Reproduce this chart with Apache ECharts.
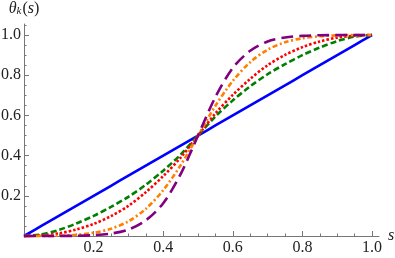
<!DOCTYPE html>
<html><head><meta charset="utf-8">
<script src="https://cdn.jsdelivr.net/npm/echarts@6/dist/echarts.min.js"></script>
<style>html,body{margin:0;padding:0;background:#fff}#c{width:395px;height:258px}</style>
</head><body><div id="c"></div>
<script>
const sValues = [0,0.05,0.1,0.15,0.2,0.25,0.3,0.35,0.4,0.45,0.5,0.55,0.6,0.65,0.7,0.75,0.8,0.85,0.9,0.95,1];
const blueVals   = [0,0.05,0.1,0.15,0.2,0.25,0.3,0.35,0.4,0.45,0.5,0.55,0.6,0.65,0.7,0.75,0.8,0.85,0.9,0.95,1];
const greenVals  = [0,0.008,0.03,0.062,0.1,0.145,0.195,0.255,0.325,0.405,0.5,0.595,0.675,0.745,0.805,0.855,0.9,0.938,0.97,0.992,1];
const redVals    = [0,0.003,0.013,0.032,0.06,0.099,0.15,0.218,0.298,0.39,0.5,0.61,0.702,0.782,0.85,0.901,0.94,0.968,0.987,0.997,1];
const orangeVals = [0,0.0002,0.0015,0.006,0.016,0.036,0.073,0.135,0.228,0.352,0.5,0.648,0.772,0.865,0.927,0.964,0.984,0.994,0.9985,0.9998,1];
const purpleVals = [0,0,0.0002,0.001,0.004,0.012,0.032,0.078,0.163,0.308,0.5,0.692,0.837,0.922,0.968,0.988,0.996,0.999,0.9998,1,1];
const majorTicks = [0.2,0.4,0.6,0.8,1.0];
const minorTicksX = [0.05,0.1,0.15,0.25,0.3,0.35,0.45,0.5,0.55,0.65,0.7,0.75,0.85,0.9,0.95];
const minorTicksY = [0.05,0.1,0.15,0.25,0.3,0.35,0.45,0.5,0.55,0.65,0.7,0.75,0.85,0.9,0.95,1.05];

const font = 'Times New Roman, Liberation Serif, serif';
const axisCol = '#777';
const pairs = v => sValues.map((s,i)=>[s,v[i]]);

const chart = echarts.init(document.getElementById('c'), null, {renderer:'canvas'});
function mkSeries(vals,color,type){
  return {type:'line', data:pairs(vals), showSymbol:false, smooth:0.3, clip:false,
    lineStyle:{color:color,width:2.6,type:type,cap:'butt'}, emphasis:{disabled:true}};
}
chart.setOption({
  animation:false,
  textStyle:{fontFamily:font},
  grid:{left:24,right:16,top:24,bottom:22,containLabel:false,outerBoundsMode:'none'},
  xAxis:[{
    type:'value',min:0,max:1.02,
    name:'s',nameLocation:'end',nameGap:8,
    nameTextStyle:{fontFamily:font,fontStyle:'italic',fontSize:16,color:'#222',verticalAlign:'middle'},
    axisLine:{show:true,onZero:false,lineStyle:{color:axisCol,width:1}},
    axisTick:{show:true,inside:true,length:5,customValues:majorTicks,lineStyle:{color:axisCol}},
    axisLabel:{customValues:majorTicks,formatter:v=>v.toFixed(1),fontFamily:font,fontSize:16,color:'#222',margin:4},
    splitLine:{show:false}
  },{
    type:'value',min:0,max:1.02,position:'bottom',
    axisLine:{show:false},
    axisTick:{show:true,inside:true,length:2.5,customValues:minorTicksX,lineStyle:{color:axisCol}},
    axisLabel:{show:false},splitLine:{show:false}
  }],
  yAxis:[{
    type:'value',min:0,max:1.055,
    name:'{a|θ}{b|k}{c|(}{a|s}{c|)}',nameLocation:'end',nameGap:7,
    nameTextStyle:{align:'center',rich:{
      a:{fontFamily:font,fontStyle:'italic',fontSize:16,color:'#222'},
      b:{fontFamily:font,fontStyle:'italic',fontSize:11,color:'#222',verticalAlign:'bottom',padding:[6,1,0,0]},
      c:{fontFamily:font,fontSize:16,color:'#222'}
    }},
    axisLine:{show:true,onZero:false,lineStyle:{color:axisCol,width:1}},
    axisTick:{show:true,inside:true,length:5,customValues:majorTicks,lineStyle:{color:axisCol}},
    axisLabel:{customValues:majorTicks,formatter:v=>v.toFixed(1),fontFamily:font,fontSize:16,color:'#222',margin:3},
    splitLine:{show:false}
  },{
    type:'value',min:0,max:1.055,position:'left',
    axisLine:{show:false},
    axisTick:{show:true,inside:true,length:2.5,customValues:minorTicksY,lineStyle:{color:axisCol}},
    axisLabel:{show:false},splitLine:{show:false}
  }],
  series:[
    mkSeries(blueVals,'#0000ff','solid'),
    mkSeries(greenVals,'#008000',[6,3]),
    mkSeries(redVals,'#ff0000',[2.5,2]),
    mkSeries(orangeVals,'#ff8000',[5,2.5,2,2.5]),
    mkSeries(purpleVals,'#800080',[12,6])
  ]
});
</script></body></html>
